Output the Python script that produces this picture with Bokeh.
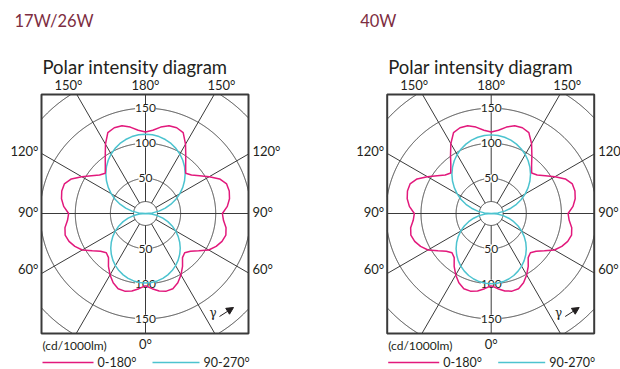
import numpy as np
from bokeh.plotting import figure
from bokeh.layouts import row
from bokeh.models import Range1d, Arrow, NormalHead
from bokeh.core.properties import value
from bokeh.embed import file_html
from bokeh.resources import INLINE

# ---------------- data ----------------
titles = ["17W/26W", "40W"]
gamma = [0, 5, 10, 15, 20, 25, 30, 35, 40, 45, 50, 55, 60, 65, 70, 75, 80, 85, 90,
         95, 100, 105, 110, 115, 120, 125, 130, 135, 140, 145, 150, 155, 160, 165, 170, 175, 180]

# C0-C180 plane (cd/1000lm)
red_17 = [103, 107.5, 112, 114.5, 114, 109, 101, 92, 82, 79, 83.5, 92.5, 104, 111, 116, 118.5, 116.5, 111.5, 109.5,
          117, 121.5, 123.5, 123, 116.5, 105, 94, 85.5, 81, 89, 100, 114, 127, 130, 129.5, 125, 119, 116]
red_40 = [103, 107.5, 112, 114.5, 114, 109, 101, 92, 82, 79, 83.5, 92.5, 104, 111, 116, 118.5, 116.5, 111.5, 109.5,
          117, 121.5, 123.5, 123, 116.5, 105, 94, 85.5, 81.5, 89.5, 101, 115, 127, 130, 129.5, 125, 119, 116]
# C90-C270 plane (cd/1000lm)
cyan_17 = [99, 98.6, 97.5, 95.6, 93, 89.7, 85.7, 81.1, 75.8, 70, 63.6, 56.8, 49.5, 41.9, 33.9, 25.6, 17.2, 8.6, 0,
           9.8, 19.6, 29.2, 38.6, 47.8, 56.5, 64.8, 72.6, 79.9, 86.6, 92.6, 97.9, 102.4, 106.2, 109.1, 111.3, 112.6, 113]
cyan_40 = [100, 99.6, 98.5, 96.6, 94, 90.6, 86.6, 81.9, 76.6, 70.7, 64.3, 57.4, 50, 42.3, 34.2, 25.9, 17.4, 8.7, 0,
           9.8, 19.5, 29, 38.3, 47.3, 56, 64.2, 72, 79.2, 85.8, 91.8, 97, 101.5, 105.2, 108.2, 110.3, 111.6, 112]

ring_values = [50, 100, 150, 200]
ring_labels = ["150", "100", "50", "50", "100", "150"]
ring_label_values = [150, 100, 50, -50, -100, -150]
spoke_angles = [0, 30, 60, 90, 120, 150, 180]
top_labels = ["150°", "180°", "150°"]
side_labels = ["120°", "90°", "60°"]
bottom_label = "0°"
unit_label = "(cd/1000lm)"
legend_labels = ["0-180°", "90-270°"]

# ---------------- style ----------------
K = 0.702            # pixels per cd/1000lm
H = 369
CY = 213             # centre from top of figure (px)
FONT = "Lato"
TXT = "#231f20"
GRID = "#3a3a3a"
RED = "#e2197c"
CYAN = "#4cc3cf"
TITLE_C = "#7d2d41"
R0 = 17              # inner small circle


def P(px):
    return px / K


def make(title, red, cyan, width, cx):
    p = figure(width=width, height=H,
               x_range=Range1d(-cx / K, (width - cx) / K),
               y_range=Range1d(-(H - CY) / K, CY / K),
               output_backend="svg", toolbar_location=None,
               x_axis_type=None, y_axis_type=None, min_border=0)
    p.outline_line_color = None
    p.background_fill_color = "white"

    bx0, bx1, by0, by1 = P(-104), P(103), P(-120), P(119)

    # rings (clipped to the box)
    th = np.linspace(0, 2 * np.pi, 1441)
    for rv in ring_values + [R0]:
        x = rv * np.cos(th)
        y = rv * np.sin(th)
        ins = (x >= bx0) & (x <= bx1) & (y >= by0) & (y <= by1)
        p.line(np.where(ins, x, np.nan), np.where(ins, y, np.nan),
               line_color=GRID, line_width=1)

    # spokes
    xs0, ys0, xs1, ys1 = [], [], [], []
    for a in spoke_angles:
        rad = np.radians(a)
        for side in (-1, 1):
            if a in (0, 180) and side == 1:
                continue
            dx = side * np.sin(rad)
            dy = -np.cos(rad)
            ts = []
            if dx > 1e-9:
                ts.append(bx1 / dx)
            elif dx < -1e-9:
                ts.append(bx0 / dx)
            if dy > 1e-9:
                ts.append(by1 / dy)
            elif dy < -1e-9:
                ts.append(by0 / dy)
            t = min(ts)
            xs0.append(R0 * dx); ys0.append(R0 * dy)
            xs1.append(t * dx); ys1.append(t * dy)
    p.segment(xs0, ys0, xs1, ys1, line_color=GRID, line_width=1)

    # box
    p.quad(left=[bx0], right=[bx1], bottom=[by0], top=[by1],
           fill_color=None, line_color=GRID, line_width=2)

    # ring value labels on the vertical axis
    p.text(x=[0] * len(ring_label_values), y=ring_label_values, text=ring_labels,
           text_align="center", text_baseline="middle",
           text_font=value(FONT), text_font_size="12px", text_color=TXT,
           background_fill_color="white")

    # curves
    g = np.radians(np.array(gamma, dtype=float))
    c = np.array(cyan, dtype=float)
    xc = np.concatenate([-c * np.sin(g), (c * np.sin(g))[::-1]])
    yc = np.concatenate([-c * np.cos(g), (-c * np.cos(g))[::-1]])
    p.line(xc, yc, line_color=CYAN, line_width=1.5)
    r = np.array(red, dtype=float)
    xr = np.concatenate([-r * np.sin(g), (r * np.sin(g))[::-1]])
    yr = np.concatenate([-r * np.cos(g), (-r * np.cos(g))[::-1]])
    p.line(xr, yr, line_color=RED, line_width=1.5)

    # angle labels
    p.text(x=[P(-77), P(0), P(76)], y=[P(129)] * 3, text=top_labels,
           text_align="center", text_baseline="middle",
           text_font=value(FONT), text_font_size="13px", text_color=TXT)
    p.text(x=[P(-107)] * 3, y=[P(63), P(2), P(-55)], text=side_labels,
           text_align="right", text_baseline="middle",
           text_font=value(FONT), text_font_size="13px", text_color=TXT)
    p.text(x=[P(107)] * 3, y=[P(63), P(2), P(-55)], text=side_labels,
           text_align="left", text_baseline="middle",
           text_font=value(FONT), text_font_size="13px", text_color=TXT)
    p.text(x=[P(0)], y=[P(-130)], text=[bottom_label],
           text_align="center", text_baseline="middle",
           text_font=value(FONT), text_font_size="13px", text_color=TXT)
    p.text(x=[P(-103)], y=[P(-132)], text=[unit_label],
           text_align="left", text_baseline="middle",
           text_font=value(FONT), text_font_size="12px", text_color=TXT)

    # titles
    p.text(x=[P(-131)], y=[P(193)], text=[title],
           text_align="left", text_baseline="middle",
           text_font=value(FONT), text_font_size="16.5px", text_color=TITLE_C)
    p.text(x=[P(-103)], y=[P(147)], text=["Polar intensity diagram"],
           text_align="left", text_baseline="middle",
           text_font=value(FONT), text_font_size="18.5px", text_color=TXT)

    # gamma arrow
    p.text(x=[P(67.5)], y=[P(-99)], text=["γ"], text_align="center",
           text_baseline="middle", text_font=value("DejaVu Serif"),
           text_font_size="12px", text_color=TXT)
    p.add_layout(Arrow(end=NormalHead(size=7, fill_color=TXT, line_color=TXT),
                       x_start=P(74), y_start=P(-103), x_end=P(88), y_end=P(-94),
                       line_color=TXT, line_width=1))

    # legend
    ly = P(-149)
    p.segment([P(-103), P(7)], [ly, ly], [P(-52), P(54)], [ly, ly],
              line_color=[RED, CYAN], line_width=1.5)
    p.text(x=[P(-48), P(58)], y=[ly, ly], text=legend_labels,
           text_align="left", text_baseline="middle",
           text_font=value(FONT), text_font_size="12.5px", text_color=TXT)
    return p


f1 = make(titles[0], red_17, cyan_17, 354, 145)
f2 = make(titles[1], red_40, cyan_40, 266, 136.7)
layout = row(f1, f2)

open("out.html", "w").write(file_html(layout, INLINE))
